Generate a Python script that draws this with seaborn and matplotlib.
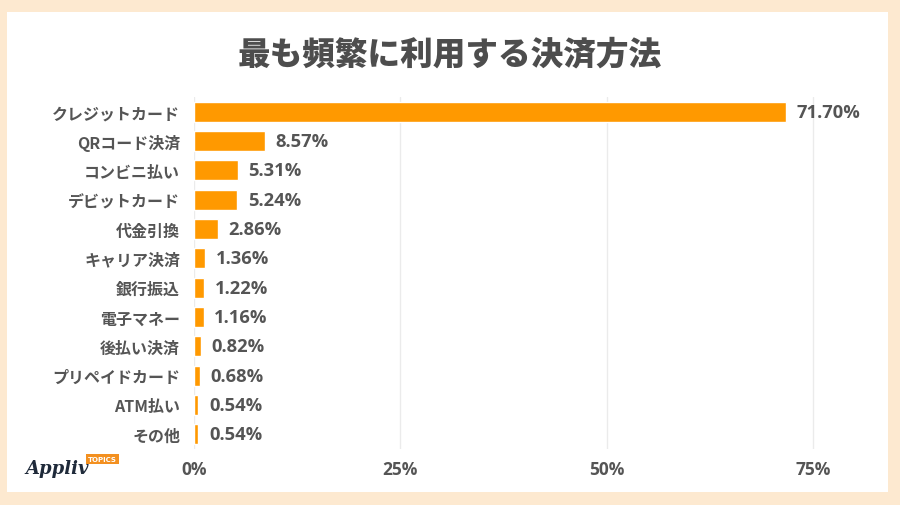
import seaborn as sns
import pandas as pd
from matplotlib import pyplot as plt
from matplotlib.patches import Rectangle

methods = ["クレジットカード", "QRコード決済", "コンビニ払い", "デビットカード", "代金引換",
           "キャリア決済", "銀行振込", "電子マネー", "後払い決済", "プリペイドカード",
           "ATM払い", "その他"]
shares = [71.70, 8.57, 5.31, 5.24, 2.86, 1.36, 1.22, 1.16, 0.82, 0.68, 0.54, 0.54]
xticks = [0, 25, 50, 75]

df = pd.DataFrame({"method": methods, "share": shares})

sns.set_style("white")
plt.rcParams['font.family'] = ['Noto Sans CJK JP', 'DejaVu Sans']
num_font = ['Open Sans', 'Noto Sans CJK JP']

gray = "#555555"
fig = plt.figure(figsize=(9, 5.06), dpi=100)
fig.patch.set_facecolor("#fde9d0")
fig.patches.append(Rectangle((7/900, 13/506), 881/900, 480/506, transform=fig.transFigure,
                             facecolor="white", edgecolor="none", zorder=-5))

ax = fig.add_axes([194/900, 1 - 450/506, 660/900, 352/506])
ax.set_facecolor("none")
sns.barplot(data=df, x="share", y="method", color="#ff9900", saturation=1,
            width=0.68, ax=ax, zorder=3)

ax.set_xlim(0, 80)
ax.set_xticks(xticks)
ax.set_xticklabels([f"{t}%" for t in xticks])
ax.grid(axis="x", color="#ebebeb", linewidth=1, zorder=0)
for s in ax.spines.values():
    s.set_visible(False)
ax.tick_params(axis="both", length=0, labelsize=11.5, labelcolor=gray)
ax.tick_params(axis="x", pad=8)
ax.tick_params(axis="y", pad=10)
for lbl in ax.get_yticklabels():
    lbl.set_fontweight("bold")
for lbl in ax.get_xticklabels():
    lbl.set_fontweight("bold")
    lbl.set_family(num_font)
    lbl.set_fontsize(12.5)
ax.set_xlabel("")
ax.set_ylabel("")

for i, v in enumerate(shares):
    ax.text(v + 1.3, i, f"{v:.2f}%", va="center", ha="left", fontsize=13.2,
            fontweight="bold", family=num_font, color=gray, zorder=4)

fig.text(0.5, 1 - 55/506, "最も頻繁に利用する決済方法", ha="center", va="center",
         fontsize=23.5, fontweight="heavy", color="#4d4d4d")

# logo
fig.text(25/900, 1 - 469/506, "Appliv", ha="left", va="center", fontsize=13,
         fontstyle="italic", fontweight="bold", family="DejaVu Serif", color="#1f2a3a")
fig.text(88/900, 1 - 460/506, "TOPICS", ha="left", va="center", fontsize=5,
         fontweight="bold", color="white", family="DejaVu Sans",
         bbox=dict(boxstyle="square,pad=0.3", facecolor="#f39020", edgecolor="none"))

fig.savefig("out.png", dpi=100, facecolor=fig.get_facecolor())
